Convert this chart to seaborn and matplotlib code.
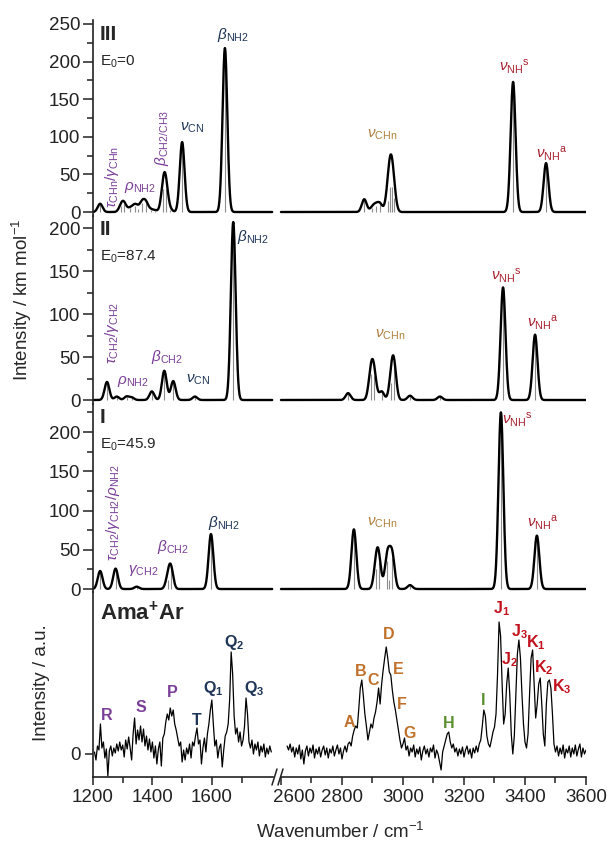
import numpy as np
import matplotlib
matplotlib.use('Agg')
import matplotlib.pyplot as plt
from matplotlib.lines import Line2D
from matplotlib.transforms import ScaledTranslation
import seaborn as sns

# --- computed stick spectra (wavenumber / cm-1, intensity / km mol-1) ---
iii_pos = [1224, 1295, 1305, 1325, 1340, 1350, 1365, 1378, 1395, 1410, 1437, 1445, 1460, 1500, 1644,
           2873, 2900, 2912, 2925, 2950, 2957, 2963, 2970, 3361, 3469]
iii_int = [11, 8, 10, 5, 8, 4, 12, 12, 3, 2, 30, 30, 3, 93, 218,
           17, 6, 8, 10, 15, 33, 33, 18, 173, 65]

ii_pos = [1247, 1280, 1313, 1330, 1398, 1440, 1470, 1543, 1672,
          2820, 2895, 2905, 2930, 2962, 2970, 3023, 3121, 3328, 3433]
ii_int = [21, 4, 4, 3, 10, 34, 22, 4, 207,
          8, 30, 28, 10, 20, 38, 5, 4, 131, 76]

i_pos = [1224, 1276, 1347, 1452, 1462, 1597,
         2839, 2912, 2920, 2948, 2955, 2965, 3023, 3321, 3439]
i_int = [23, 26, 3, 12, 26, 70,
         76, 25, 35, 36, 12, 40, 5, 225, 68]

# --- experimental spectrum (arbitrary units) ---
exp_left_x = np.arange(1205, 1805, 5)
exp_left_y = [2, -6, 8, 4, 30, 6, 12, -4, 5, -22,
              3, 8, -2, 6, 1, 10, 3, 12, 4, 9,
              -3, 14, 5, 17, 6, -6, 20, 36, 10, 24,
              14, 28, 12, 25, 8, 18, 4, 15, 2, 12,
              -4, 8, -10, 5, 12, -12, 16, 20, 32, 40,
              34, 46, 38, 44, 30, 24, 16, 8, 12, -8,
              4, -6, 6, 0, 10, -4, 12, 8, 18, 26,
              10, 14, -10, 6, 16, 2, 20, 30, 44, 54,
              30, 8, 14, -4, 6, 10, -13, 4, 18, 22,
              30, 55, 102, 80, 38, 20, 26, 12, 22, 8,
              14, 28, 56, 40, 12, 6, 14, 0, 10, 4,
              12, -2, 8, 2, 10, -3, 6, 0, 8, 2]

exp_right_x = np.arange(2620, 3605, 5)
exp_right_y = [8, 4, 10, 2, 7, -3, 6, 0, 9, -5,
               4, -10, 3, 8, -2, 6, 1, 9, -4, 5,
               0, 7, -3, 4, 8, -1, 6, -4, 5, 1,
               8, -2, 4, 9, 0, 6, -5, 3, 8, 2,
               10, 12, 8, 18, 24, 28, 26, 45, 66, 74,
               58, 40, 28, 14, 22, 30, 26, 36, 42, 52,
               66, 50, 70, 84, 96, 107, 96, 82, 79, 64,
               52, 44, 34, 24, 14, 6, 10, 16, 4, 8,
               -2, 6, 2, 9, -3, 5, 0, 7, -6, 3,
               8, 0, 5, -3, 6, 2, 9, -4, 4, 0,
               -8, -16, 2, 8, 14, 20, 22, 12, 6, 10,
               2, 6, -2, 5, 0, 7, -3, 4, 8, 0,
               5, -4, 6, 1, 8, 2, 10, 14, 28, 44,
               38, 18, 10, 7, 14, 22, 27, 40, 80, 132,
               118, 70, 30, 40, 70, 86, 60, 20, 0, 18,
               60, 100, 114, 96, 60, 30, 12, 6, 20, 60,
               96, 104, 70, 36, 50, 70, 76, 50, 20, 8,
               50, 72, 74, 66, 40, 10, 2, 8, -2, 6,
               0, 9, -4, 5, 1, 8, -3, 6, 0, 9,
               -2, 5, 10, -3, 6, 0, 4]

# colours
PURPLE = '#7a3f98'
NAVY = '#1f3557'
TAN = '#b0803c'
DRED = '#a8202e'
ORANGE = '#c0702a'
GREEN = '#5a8f2e'
RED = '#c2101c'

# annotation texts: (x, y, text, colour, rotation)
iii_labels = [(1264, 47, r'$\tau_{\mathrm{CHn}}/\gamma_{\mathrm{CHn}}$', PURPLE, 90),
              (1358, 32, r'$\rho_{\mathrm{NH2}}$', PURPLE, 0),
              (1432, 98, r'$\beta_{\mathrm{CH2/CH3}}$', PURPLE, 90),
              (1533, 112, r'$\nu_{\mathrm{CN}}$', NAVY, 0),
              (1671, 235, r'$\beta_{\mathrm{NH2}}$', NAVY, 0),
              (2933, 102, r'$\nu_{\mathrm{CHn}}$', TAN, 0),
              (3365, 193, r'$\nu_{\mathrm{NH}}{}^{\mathrm{s}}$', DRED, 0),
              (3489, 78, r'$\nu_{\mathrm{NH}}{}^{\mathrm{a}}$', DRED, 0)]
ii_labels = [(1264, 78, r'$\tau_{\mathrm{CH2}}/\gamma_{\mathrm{CH2}}$', PURPLE, 90),
             (1335, 21, r'$\rho_{\mathrm{NH2}}$', PURPLE, 0),
             (1449, 50, r'$\beta_{\mathrm{CH2}}$', PURPLE, 0),
             (1553, 23, r'$\nu_{\mathrm{CN}}$', NAVY, 0),
             (1739, 190, r'$\beta_{\mathrm{NH2}}$', NAVY, 0),
             (2957, 76, r'$\nu_{\mathrm{CHn}}$', TAN, 0),
             (3339, 145, r'$\nu_{\mathrm{NH}}{}^{\mathrm{s}}$', DRED, 0),
             (3457, 90, r'$\nu_{\mathrm{NH}}{}^{\mathrm{a}}$', DRED, 0)]
i_labels = [(1268, 97, r'$\tau_{\mathrm{CH2}}/\gamma_{\mathrm{CH2}}/\rho_{\mathrm{NH2}}$', PURPLE, 90),
            (1370, 24, r'$\gamma_{\mathrm{CH2}}$', PURPLE, 0),
            (1470, 53, r'$\beta_{\mathrm{CH2}}$', PURPLE, 0),
            (1640, 84, r'$\beta_{\mathrm{NH2}}$', NAVY, 0),
            (2933, 84, r'$\nu_{\mathrm{CHn}}$', TAN, 0),
            (3375, 215, r'$\nu_{\mathrm{NH}}{}^{\mathrm{s}}$', DRED, 0),
            (3457, 84, r'$\nu_{\mathrm{NH}}{}^{\mathrm{a}}$', DRED, 0)]
exp_labels = [(1247, 39, 'R', PURPLE), (1362, 47, 'S', PURPLE), (1466, 62, 'P', PURPLE),
              (1550, 34, 'T', NAVY), (1605, 66, r'Q_1', NAVY), (1675, 112, r'Q_2', NAVY),
              (1742, 66, r'Q_3', NAVY),
              (2826, 32, 'A', ORANGE), (2859, 83, 'B', ORANGE), (2904, 74, 'C', ORANGE),
              (2953, 120, 'D', ORANGE), (2983, 85, 'E', ORANGE), (2996, 50, 'F', ORANGE),
              (3022, 21, 'G', ORANGE), (3149, 31, 'H', GREEN), (3260, 54, 'I', GREEN),
              (3322, 145, r'J_1', RED), (3350, 94, r'J_2', RED), (3381, 122, r'J_3', RED),
              (3437, 111, r'K_1', RED), (3460, 86, r'K_2', RED), (3520, 67, r'K_3', RED)]

panels = [('III', r'E$_0$=0', iii_pos, iii_int, iii_labels, 255.3, -5.3, [0, 50, 100, 150, 200, 250]),
          ('II', r'E$_0$=87.4', ii_pos, ii_int, ii_labels, 214, -4.65, [0, 50, 100, 150, 200]),
          ('I', r'E$_0$=45.9', i_pos, i_int, i_labels, 235.7, -3.8, [0, 50, 100, 150, 200])]

sns.set_style('ticks')
plt.rcParams['font.family'] = ['Liberation Sans', 'DejaVu Sans']
plt.rcParams['mathtext.fontset'] = 'custom'
plt.rcParams['mathtext.rm'] = 'Liberation Sans'
plt.rcParams['mathtext.it'] = 'Liberation Sans:italic'
plt.rcParams['mathtext.bf'] = 'Liberation Sans:bold'
plt.rcParams['axes.edgecolor'] = '#222222'
plt.rcParams['axes.linewidth'] = 1.2

W, H = 607, 849
fig = plt.figure(figsize=(W / 100, H / 100), dpi=100)


def box(x0, x1, y0, y1):
    return [x0 / W, 1 - y1 / H, (x1 - x0) / W, (y1 - y0) / H]


rows = [(20, 216), (216, 404), (404, 592), (592, 777)]
XL = (1200, 1826)
XR = (2593.5, 3600)
SIG = 8.0
grid_l = np.arange(1200, 1804, 1.0)
grid_r = np.arange(2600, 3601, 1.0)


def envelope(grid, pos, inten):
    pos = np.asarray(pos, float)
    inten = np.asarray(inten, float)
    return (inten[None, :] * np.exp(-(grid[:, None] - pos[None, :]) ** 2 / (2 * SIG ** 2))).sum(axis=1)


def style_axes(ax, left):
    for s in ['top', 'right', 'bottom']:
        ax.spines[s].set_visible(False)
    if not left:
        ax.spines['left'].set_visible(False)
        ax.tick_params(left=False, labelleft=False)
    ax.patch.set_visible(False)
    ax.tick_params(bottom=False, labelbottom=False)
    ax.tick_params(axis='y', which='major', length=7, width=1.1, labelsize=13.5, pad=2, colors='#222222')
    ax.tick_params(axis='y', which='minor', length=4, width=1.1, colors='#222222')


for i, (name, e0, pos, inten, labels, ytop, ybot, yt) in enumerate(panels):
    axl = fig.add_axes(box(93, 279, *rows[i]))
    axr = fig.add_axes(box(279, 586, *rows[i]))
    pos = np.asarray(pos)
    inten = np.asarray(inten)
    for ax, grid, xl, side in [(axl, grid_l, XL, pos < 2000), (axr, grid_r, XR, pos >= 2000)]:
        ax.vlines(pos[side], 0, inten[side], color='#8c8c8c', lw=0.8, zorder=1)
        env = envelope(grid, pos, inten)
        sns.lineplot(x=grid, y=env, ax=ax, color='black', lw=1.7, zorder=2)
        ax.set_xlim(*xl)
        ax.set_ylim(ybot, ytop)
        ax.set_xlabel('')
        ax.set_ylabel('')
    style_axes(axl, True)
    style_axes(axr, False)
    axl.set_yticks(yt)
    axl.set_yticks(np.arange(25, ytop, 50), minor=True)
    axl.text(1222, ytop * 0.925, name, fontsize=15, fontweight='bold', ha='left', va='center')
    axl.text(1222, ytop * 0.925 - 34 * (ytop / 235), e0, fontsize=11, ha='left', va='center')
    for x, y, t, c, rot in labels:
        ax = axl if x < 2000 else axr
        ax.text(x, y, t, color=c, fontsize=11, ha='center', va='center', rotation=rot)

# experimental panel
axl = fig.add_axes(box(93, 279, *rows[3]))
axr = fig.add_axes(box(279, 586, *rows[3]))
sns.lineplot(x=exp_left_x, y=exp_left_y, ax=axl, color='black', lw=0.9)
sns.lineplot(x=exp_right_x, y=exp_right_y, ax=axr, color='black', lw=0.9)
for ax, xl in [(axl, XL), (axr, XR)]:
    ax.set_xlim(*xl)
    ax.set_ylim(-23, 162)
    ax.set_xlabel('')
    ax.set_ylabel('')
    ax.patch.set_visible(False)
    ax.spines['top'].set_visible(False)
    ax.spines['right'].set_visible(False)
    ax.tick_params(axis='both', which='major', length=6, width=1.1, labelsize=13.5, pad=3, colors='#222222')
    ax.tick_params(axis='both', which='minor', length=4, width=1.1, colors='#222222')
axl.set_yticks([0])
axr.spines['left'].set_visible(False)
axr.tick_params(left=False, labelleft=False)
axl.set_xticks([1200, 1400, 1600])
axl.set_xticks([1300, 1500, 1700], minor=True)
axr.set_xticks([2600, 2800, 3000, 3200, 3400, 3600])
axr.set_xticks([2700, 2900, 3100, 3300, 3500], minor=True)
axl.spines['bottom'].set_bounds(1200, 1805)
axr.spines['bottom'].set_bounds(2600, 3600)
# the 2600 label sits a little right of the break in the original
lab2600 = axr.get_xticklabels()[0]
lab2600.set_transform(lab2600.get_transform() + ScaledTranslation(0.13, 0, fig.dpi_scale_trans))
axl.text(1222, 141, r'$\mathbf{Ama^{+}Ar}$', fontsize=16, ha='left', va='center')
for x, y, t, c in exp_labels:
    ax = axl if x < 2000 else axr
    ax.text(x, y, r'$\mathbf{%s}$' % t, color=c, fontsize=11.5, ha='center', va='center')

# axis break marks
for bx in (272, 278):
    fig.add_artist(Line2D([bx / W, (bx + 5) / W], [1 - 785 / H, 1 - 769 / H], color='#222222', lw=1.1))

fig.text(22 / W, 1 - 300 / H, r'Intensity / km mol$^{-1}$', rotation=90, ha='center', va='center', fontsize=13.5)
fig.text(42 / W, 1 - 683 / H, 'Intensity / a.u.', rotation=90, ha='center', va='center', fontsize=13.5)
fig.text(340 / W, 1 - 832 / H, r'Wavenumber / cm$^{-1}$', ha='center', va='center', fontsize=13.5)

fig.savefig('out.png', dpi=100)
